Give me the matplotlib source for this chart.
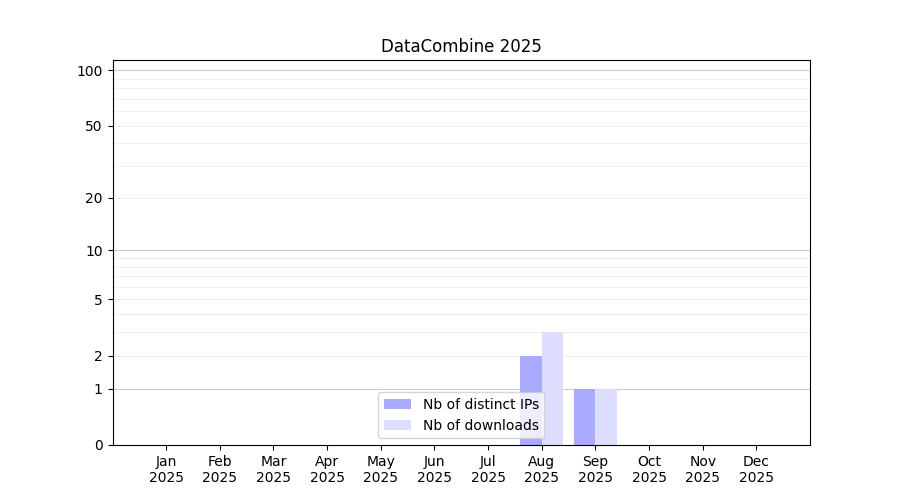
import numpy as np
import matplotlib
matplotlib.use('Agg')
from matplotlib import pyplot as plt
from matplotlib.ticker import FixedLocator, FixedFormatter

months = ['Jan', 'Feb', 'Mar', 'Apr', 'May', 'Jun',
          'Jul', 'Aug', 'Sep', 'Oct', 'Nov', 'Dec']
year = '2025'
distinct_ips = [0, 0, 0, 0, 0, 0, 0, 2, 1, 0, 0, 0]
downloads = [0, 0, 0, 0, 0, 0, 0, 3, 1, 0, 0, 0]

y_ticks = [0, 1, 2, 5, 10, 20, 50, 100]
major_grid = [1, 10, 100]
minor_grid = [2, 3, 4, 5, 6, 7, 8, 9, 20, 30, 40, 50, 60, 70, 80, 90]

x = np.arange(len(months))
width = 0.4

fig, ax = plt.subplots(figsize=(9, 5), dpi=100)

ax.set_yscale('function', functions=(lambda v: np.log10(1 + np.clip(v, 0, None)),
                                     lambda v: 10 ** v - 1))

for g in minor_grid:
    ax.axhline(g, color='#eeeeee', linewidth=0.8, zorder=0)
for g in major_grid:
    ax.axhline(g, color='#cccccc', linewidth=0.8, zorder=0)

ax.bar(x, distinct_ips, width=-width, align='edge', color='#aaaaff',
       label='Nb of distinct IPs', zorder=2)
ax.bar(x, downloads, width=width, align='edge', color='#ddddff',
       label='Nb of downloads', zorder=2)

ax.set_xlim(-1, 12)
ax.set_ylim(0, 113.5)
ax.set_xticks(x)
ax.set_xticklabels([m + '\n' + year for m in months])
ax.yaxis.set_major_locator(FixedLocator(y_ticks))
ax.yaxis.set_major_formatter(FixedFormatter([str(t) for t in y_ticks]))
ax.yaxis.set_minor_locator(FixedLocator([]))

ax.set_title('DataCombine 2025')
ax.legend(loc='lower center')

plt.savefig('out.png')
